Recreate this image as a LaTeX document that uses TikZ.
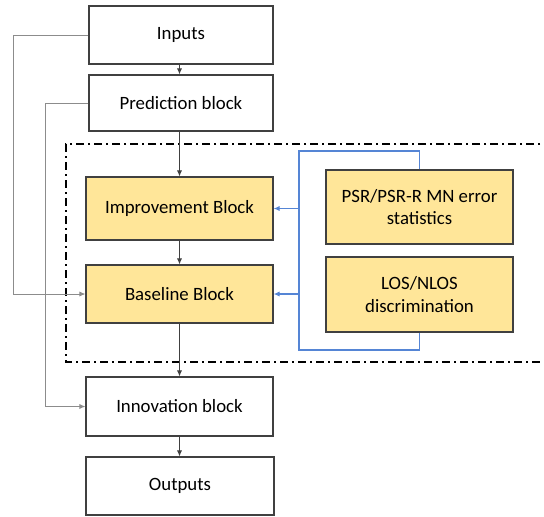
\documentclass[tikz,border=0pt]{standalone}
\usepackage{fontspec}
\setmainfont{Carlito}
\usetikzlibrary{arrows.meta}
\definecolor{boxline}{HTML}{404040}
\definecolor{gold}{HTML}{FFE699}
\definecolor{blueline}{HTML}{5585D5}
\definecolor{grayline}{HTML}{8C8C8C}
\tikzset{
  blk/.style={draw=boxline, line width=0.6pt, fill=white, inner sep=0pt, font=\fontsize{9.4}{11.3}\selectfont, align=center},
  yblk/.style={blk, fill=gold},
  arr/.style={-{Latex[length=3pt,width=2.6pt]}, line width=0.45pt},
  darr/.style={arr, draw=boxline},
  garr/.style={arr, draw=grayline},
  barr/.style={arr, draw=blueline, line width=0.55pt},
  frame/.style={line width=1.1pt, dash pattern=on 4pt off 2pt on 1pt off 2pt}
}
\begin{document}
\begin{tikzpicture}[x=0.5pt,y=-0.5pt]
\useasboundingbox (0,0) rectangle (544,516);
% dash-dot frame
\draw[frame] (552,144) -- (66,144) -- (66,362) -- (552,362);
% boxes
\node[blk, minimum width=92pt, minimum height=29pt] (inp) at (181,35) {Inputs};
\node[blk, minimum width=92pt, minimum height=28pt] (pred) at (181,103) {Prediction block};
\node[yblk, minimum width=93.5pt, minimum height=31.5pt] (imp) at (179.5,208.5) {Improvement Block};
\node[yblk, minimum width=93.5pt, minimum height=29pt] (base) at (179.5,294) {Baseline Block};
\node[yblk, minimum width=93.5pt, minimum height=37pt] (psr) at (419.5,207) {PSR/PSR-R MN error\\statistics};
\node[yblk, minimum width=93.5pt, minimum height=37.5pt] (los) at (419.5,294.5) {LOS/NLOS\\discrimination};
\node[blk, minimum width=93.5pt, minimum height=29.5pt] (inn) at (179.5,406.5) {Innovation block};
\node[blk, minimum width=94pt, minimum height=29pt] (out) at (180,486) {Outputs};
% vertical flow
\draw[darr] (inp.south -| imp.north) -- (pred.north -| imp.north);
\draw[darr] (pred.south -| imp.north) -- (imp.north);
\draw[darr] (imp.south) -- (base.north);
\draw[darr] (base.south) -- (inn.north);
\draw[darr] (inn.south) -- (out.north -| inn.south);
% gray feedthrough lines
\coordinate (g1) at (13,0);
\coordinate (g2) at (45,0);
\draw[garr] (inp.west) -- (inp.west -| g1) -- (base.west -| g1) -- (base.west);
\draw[garr] (pred.west) -- (pred.west -| g2) -- (inn.west -| g2) -- (inn.west);
% blue bracket
\coordinate (bl) at (299,151);
\coordinate (bb) at (299,350);
\draw[blueline, line width=0.55pt] (psr.north) -- (psr.north |- bl) -- (bl) -- (bb) -- (los.south |- bb) -- (los.south);
\draw[barr] (imp.east -| bl) -- (imp.east);
\draw[barr] (base.east -| bl) -- (base.east);
\end{tikzpicture}
\end{document}
